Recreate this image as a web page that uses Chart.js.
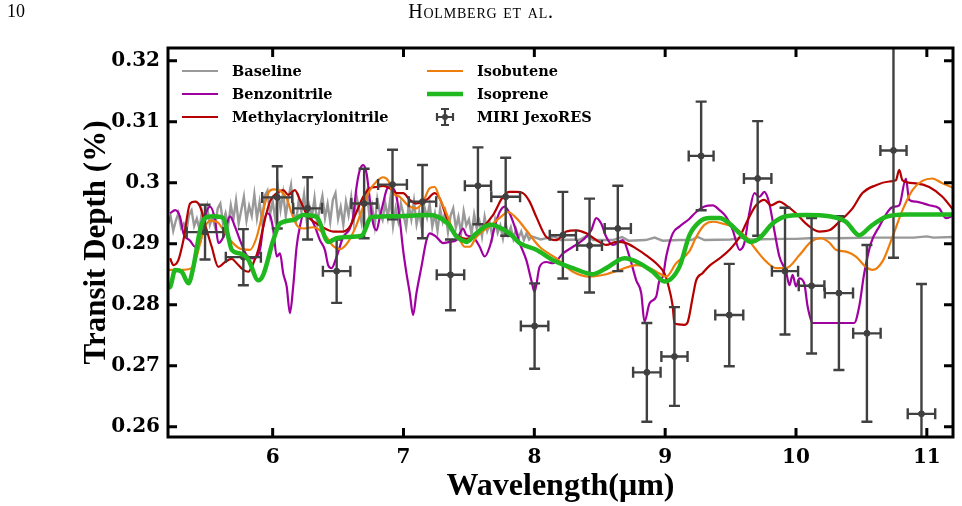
<!DOCTYPE html>
<html>
<head>
<meta charset="utf-8">
<script src="https://cdn.jsdelivr.net/npm/chart.js@4.4.1/dist/chart.umd.min.js"></script>
<style>
  html, body { margin: 0; padding: 0; background: #fff; }
  #wrap { position: relative; width: 962px; height: 506px; }
  #page-no { position: absolute; left: 7px; top: 1px; font: 18px "Liberation Serif", serif; color: #000; }
  #running-head { position: absolute; left: 0; top: 0; width: 962px; text-align: center;
    font: 20px "Liberation Serif", serif; font-variant: small-caps; letter-spacing: 0.8px; color: #000; }
</style>
</head>
<body>
<div id="wrap">
  <canvas id="chart"></canvas>
  <div id="page-no">10</div>
  <div id="running-head">Holmberg et al.</div>
</div>
<script>
// Axis ticks
const X_TICKS = [6, 7, 8, 9, 10, 11];
const Y_TICKS = [0.26, 0.27, 0.28, 0.29, 0.30, 0.31, 0.32];
const Y_TICK_LABELS = ['0.26', '0.27', '0.28', '0.29', '0.3', '0.31', '0.32'];

// MIRI JexoRES data points (wavelength µm, depth %, errors)
const miriWl      = [5.483, 5.776, 6.035, 6.267, 6.489, 6.699, 6.916, 7.145, 7.359, 7.569, 7.781, 8.002, 8.218,
                     8.422, 8.638, 8.860, 9.071, 9.275, 9.490, 9.707, 9.916, 10.119, 10.328, 10.542, 10.745, 10.959];
const miriDepth   = [0.2919, 0.2878, 0.2976, 0.2958, 0.2855, 0.2966, 0.2997, 0.2969, 0.2849, 0.2995, 0.2977, 0.2765, 0.2914,
                     0.2897, 0.2925, 0.2689, 0.2715, 0.3044, 0.2783, 0.3007, 0.2855, 0.2831, 0.2819, 0.2753, 0.3053, 0.2621];
const miriErr     = [0.0045, 0.0046, 0.0051, 0.0051, 0.0052, 0.0057, 0.0057, 0.0060, 0.0058, 0.0063, 0.0064, 0.0070, 0.0071,
                     0.0077, 0.0070, 0.0081, 0.0081, 0.0089, 0.0084, 0.0094, 0.0104, 0.0111, 0.0126, 0.0145, 0.0176, 0.0213];
const miriWlErr   = [0.140, 0.134, 0.115, 0.110, 0.105, 0.098, 0.110, 0.105, 0.105, 0.100, 0.110, 0.105, 0.100,
                     0.095, 0.100, 0.105, 0.100, 0.095, 0.107, 0.105, 0.100, 0.098, 0.108, 0.105, 0.100, 0.105];

// Model spectra: [wavelength, depth]
const baseline = [
  [5.20,0.2932],[5.22,0.2945],[5.24,0.2921],[5.26,0.2938],[5.28,0.2950],[5.30,0.2926],[5.32,0.2933],[5.34,0.2919],
  [5.36,0.2947],[5.38,0.2955],[5.40,0.2929],[5.42,0.2941],[5.44,0.2924],[5.46,0.2953],[5.48,0.2936],[5.50,0.2960],
  [5.52,0.2931],[5.54,0.2944],[5.56,0.2927],[5.58,0.2958],[5.60,0.2966],[5.62,0.2935],[5.64,0.2950],[5.66,0.2930],
  [5.68,0.2963],[5.70,0.2940],[5.72,0.2971],[5.74,0.2933],[5.76,0.2955],[5.78,0.2977],[5.80,0.2938],[5.82,0.2962],
  [5.84,0.2946],[5.86,0.2981],[5.88,0.2942],[5.90,0.2968],[5.92,0.2935],[5.94,0.2979],[5.96,0.2987],[5.98,0.2948],
  [6.00,0.2970],[6.02,0.2940],[6.04,0.2992],[6.06,0.2956],[6.08,0.2983],[6.10,0.2945],[6.12,0.2975],[6.14,0.2996],
  [6.16,0.2950],[6.18,0.2937],[6.20,0.2973],[6.22,0.2952],[6.24,0.2981],[6.26,0.2938],[6.28,0.2962],[6.30,0.2944],
  [6.32,0.2975],[6.34,0.2933],[6.36,0.2958],[6.38,0.2978],[6.40,0.2942],[6.42,0.2965],[6.44,0.2936],[6.46,0.2972],
  [6.48,0.2983],[6.50,0.2941],[6.52,0.2960],[6.54,0.2931],[6.56,0.2969],[6.58,0.2947],[6.60,0.2976],[6.62,0.2937],
  [6.64,0.2980],[6.66,0.2955],[6.68,0.2934],[6.70,0.2968],[6.72,0.2985],[6.74,0.2944],[6.76,0.2962],[6.78,0.2930],
  [6.80,0.2973],[6.82,0.2950],[6.84,0.2939],[6.86,0.2967],[6.88,0.2943],[6.90,0.2975],[6.92,0.2929],[6.94,0.2958],
  [6.96,0.2937],[6.98,0.2966],[7.00,0.2948],[7.02,0.2927],[7.04,0.2963],[7.06,0.2940],[7.08,0.2970],[7.10,0.2932],
  [7.12,0.2952],[7.14,0.2925],[7.16,0.2960],[7.18,0.2943],[7.20,0.2965],[7.22,0.2928],[7.24,0.2949],[7.26,0.2921],
  [7.28,0.2957],[7.30,0.2936],[7.32,0.2952],[7.34,0.2919],[7.36,0.2946],[7.38,0.2958],[7.40,0.2926],[7.42,0.2944],
  [7.44,0.2917],[7.46,0.2953],[7.48,0.2930],[7.50,0.2940],[7.52,0.2915],[7.54,0.2948],[7.56,0.2925],[7.58,0.2937],
  [7.60,0.2912],[7.62,0.2944],[7.64,0.2921],[7.66,0.2933],[7.68,0.2911],[7.70,0.2939],[7.72,0.2918],[7.74,0.2930],
  [7.76,0.2909],[7.78,0.2934],[7.80,0.2915],[7.82,0.2927],[7.84,0.2908],[7.86,0.2924],[7.88,0.2910],[7.90,0.2920],
  [7.92,0.2906],[7.94,0.2917],[7.96,0.2907],[7.98,0.2912],
  [8.05,0.2907],[8.15,0.2912],[8.20,0.2906],[8.35,0.2907],[8.40,0.2913],[8.45,0.2906],[8.60,0.2906],[8.67,0.2911],
  [8.72,0.2905],[8.85,0.2906],[8.92,0.2910],[8.98,0.2905],[9.10,0.2906],[9.20,0.2906],[9.25,0.2911],[9.30,0.2906],
  [9.50,0.2907],[9.60,0.2910],[9.65,0.2907],[9.90,0.2908],[10.00,0.2908],[10.10,0.2909],[10.30,0.2909],[10.60,0.2910],
  [10.90,0.2910],[11.00,0.2912],[11.05,0.2910],[11.20,0.2911]
];

const benzonitrile = [
  [5.216,0.2950],[5.254,0.2955],[5.292,0.2944],[5.318,0.2917],[5.369,0.2905],[5.407,0.2895],[5.445,0.2901],[5.483,0.2945],
  [5.521,0.2961],[5.560,0.2939],[5.585,0.2901],[5.623,0.2911],[5.674,0.2945],[5.712,0.2928],[5.750,0.2906],[5.802,0.2881],
  [5.852,0.2876],[5.903,0.2890],[5.928,0.2928],[5.954,0.2950],[5.979,0.2947],[6.005,0.2922],[6.031,0.2879],[6.056,0.2884],
  [6.081,0.2851],[6.107,0.2830],[6.132,0.2786],[6.157,0.2830],[6.183,0.2895],[6.208,0.2928],[6.234,0.2947],[6.285,0.2944],
  [6.323,0.2928],[6.361,0.2906],[6.399,0.2890],[6.424,0.2865],[6.450,0.2860],[6.489,0.2879],[6.539,0.2911],[6.590,0.2925],
  [6.615,0.2944],[6.641,0.2993],[6.666,0.3021],[6.692,0.3029],[6.718,0.3015],[6.743,0.2972],[6.768,0.2933],[6.794,0.2922],
  [6.819,0.2944],[6.844,0.2966],[6.870,0.2988],[6.895,0.2993],[6.921,0.2991],[6.947,0.2977],[6.972,0.2939],[6.997,0.2890],
  [7.023,0.2851],[7.048,0.2819],[7.073,0.2783],[7.099,0.2819],[7.137,0.2862],[7.176,0.2906],[7.201,0.2917],[7.252,0.2911],
  [7.302,0.2901],[7.353,0.2903],[7.405,0.2906],[7.455,0.2925],[7.481,0.2914],[7.531,0.2911],[7.582,0.2895],[7.621,0.2879],
  [7.659,0.2895],[7.697,0.2928],[7.735,0.2952],[7.773,0.2961],[7.811,0.2950],[7.850,0.2928],[7.888,0.2901],[7.939,0.2873],
  [7.977,0.2840],[8.002,0.2821],[8.040,0.2862],[8.092,0.2870],[8.142,0.2868],[8.218,0.2884],[8.295,0.2895],[8.371,0.2906],
  [8.435,0.2922],[8.473,0.2942],[8.511,0.2933],[8.550,0.2911],[8.600,0.2898],[8.676,0.2906],[8.727,0.2879],[8.779,0.2840],
  [8.817,0.2819],[8.842,0.2772],[8.880,0.2802],[8.931,0.2813],[8.957,0.2840],[8.982,0.2846],[9.008,0.2879],[9.058,0.2917],
  [9.109,0.2928],[9.186,0.2941],[9.237,0.2952],[9.300,0.2961],[9.364,0.2963],[9.416,0.2955],[9.466,0.2944],[9.517,0.2922],
  [9.569,0.2890],[9.605,0.2901],[9.643,0.2950],[9.682,0.2983],[9.720,0.2977],[9.758,0.2985],[9.796,0.2966],[9.834,0.2922],
  [9.873,0.2879],[9.924,0.2854],[9.950,0.2832],[9.974,0.2849],[10.000,0.2830],[10.025,0.2843],[10.063,0.2835],[10.089,0.2797],
  [10.127,0.2770],[10.445,0.2770],[10.483,0.2797],[10.521,0.2851],[10.573,0.2901],[10.636,0.2928],[10.737,0.2960],[10.789,0.2963],
  [10.840,0.3007],[10.865,0.2972],[10.916,0.2969],[11.018,0.2963],[11.095,0.2958],[11.145,0.2942],[11.200,0.2946]
];

const methylacrylonitrile = [
  [5.216,0.2876],[5.241,0.2865],[5.279,0.2873],[5.318,0.2906],[5.369,0.2966],[5.407,0.2969],[5.445,0.2961],[5.496,0.2922],
  [5.534,0.2895],[5.585,0.2862],[5.636,0.2870],[5.687,0.2875],[5.725,0.2868],[5.776,0.2857],[5.814,0.2854],[5.852,0.2868],
  [5.890,0.2890],[5.928,0.2928],[5.979,0.2969],[6.031,0.2983],[6.081,0.2988],[6.119,0.2980],[6.170,0.2988],[6.208,0.2972],
  [6.272,0.2944],[6.336,0.2933],[6.399,0.2925],[6.463,0.2920],[6.539,0.2920],[6.590,0.2928],[6.641,0.2952],[6.692,0.2977],
  [6.743,0.2991],[6.794,0.2993],[6.844,0.2995],[6.895,0.2991],[6.947,0.2983],[6.997,0.2983],[7.048,0.2972],[7.099,0.2966],
  [7.176,0.2972],[7.239,0.2983],[7.277,0.2974],[7.328,0.2944],[7.379,0.2920],[7.430,0.2911],[7.481,0.2908],[7.582,0.2922],
  [7.684,0.2947],[7.760,0.2977],[7.811,0.2985],[7.863,0.2985],[7.913,0.2983],[7.964,0.2969],[8.015,0.2944],[8.092,0.2911],
  [8.168,0.2906],[8.244,0.2920],[8.321,0.2922],[8.397,0.2917],[8.473,0.2906],[8.550,0.2898],[8.626,0.2903],[8.702,0.2901],
  [8.779,0.2892],[8.855,0.2881],[8.931,0.2868],[8.995,0.2851],[9.020,0.2835],[9.058,0.2797],[9.071,0.2769],[9.147,0.2767],
  [9.173,0.2772],[9.211,0.2813],[9.237,0.2840],[9.287,0.2852],[9.340,0.2864],[9.416,0.2876],[9.492,0.2890],[9.569,0.2911],
  [9.631,0.2939],[9.695,0.2963],[9.758,0.2972],[9.809,0.2963],[9.873,0.2969],[9.924,0.2963],[10.000,0.2950],[10.076,0.2933],
  [10.178,0.2920],[10.254,0.2922],[10.331,0.2936],[10.432,0.2958],[10.508,0.2983],[10.611,0.2996],[10.712,0.3002],[10.763,0.3004],
  [10.789,0.3021],[10.814,0.3004],[10.916,0.2999],[11.018,0.2993],[11.119,0.2977],[11.200,0.2956]
];

const isobutene = [
  [5.200,0.2857],[5.300,0.2857],[5.380,0.2860],[5.420,0.2880],[5.470,0.2920],[5.520,0.2938],[5.580,0.2935],[5.630,0.2920],
  [5.675,0.2906],[5.750,0.2892],[5.827,0.2890],[5.878,0.2911],[5.928,0.2955],[5.966,0.2983],[6.005,0.2989],[6.056,0.2987],
  [6.107,0.2974],[6.145,0.2950],[6.183,0.2931],[6.234,0.2925],[6.310,0.2927],[6.361,0.2922],[6.412,0.2911],[6.463,0.2896],
  [6.514,0.2891],[6.577,0.2903],[6.641,0.2931],[6.692,0.2961],[6.743,0.2988],[6.794,0.3002],[6.844,0.3009],[6.882,0.3004],
  [6.921,0.2983],[6.972,0.2977],[7.035,0.2963],[7.099,0.2958],[7.150,0.2969],[7.201,0.2991],[7.239,0.2993],[7.277,0.2974],
  [7.328,0.2950],[7.379,0.2922],[7.430,0.2906],[7.468,0.2895],[7.506,0.2895],[7.557,0.2911],[7.684,0.2933],[7.760,0.2947],
  [7.798,0.2952],[7.863,0.2942],[7.939,0.2922],[8.040,0.2895],[8.168,0.2876],[8.295,0.2854],[8.422,0.2846],[8.550,0.2850],
  [8.651,0.2857],[8.779,0.2865],[8.880,0.2860],[8.957,0.2851],[9.008,0.2846],[9.084,0.2868],[9.186,0.2888],[9.237,0.2911],
  [9.300,0.2931],[9.364,0.2936],[9.441,0.2933],[9.517,0.2928],[9.619,0.2911],[9.695,0.2890],[9.771,0.2871],[9.847,0.2860],
  [9.924,0.2860],[10.025,0.2881],[10.114,0.2903],[10.190,0.2909],[10.254,0.2902],[10.305,0.2890],[10.382,0.2887],[10.458,0.2879],
  [10.534,0.2862],[10.585,0.2857],[10.661,0.2871],[10.737,0.2911],[10.814,0.2955],[10.890,0.2988],[10.966,0.3003],[11.043,0.3007],
  [11.119,0.2999],[11.200,0.2992]
];

const isoprene = [
  [5.200,0.2828],[5.216,0.2829],[5.254,0.2857],[5.305,0.2854],[5.356,0.2835],[5.394,0.2862],[5.445,0.2922],[5.483,0.2942],
  [5.547,0.2945],[5.623,0.2942],[5.661,0.2911],[5.687,0.2890],[5.750,0.2884],[5.814,0.2874],[5.890,0.2840],[5.928,0.2849],
  [6.005,0.2906],[6.056,0.2933],[6.157,0.2939],[6.234,0.2947],[6.336,0.2944],[6.424,0.2903],[6.489,0.2909],[6.565,0.2911],
  [6.679,0.2913],[6.756,0.2944],[6.921,0.2945],[7.176,0.2947],[7.252,0.2945],[7.340,0.2933],[7.405,0.2912],[7.455,0.2905],
  [7.481,0.2903],[7.557,0.2917],[7.659,0.2931],[7.710,0.2929],[7.811,0.2917],[7.888,0.2901],[8.015,0.2890],[8.142,0.2873],
  [8.295,0.2860],[8.447,0.2850],[8.550,0.2860],[8.689,0.2876],[8.804,0.2868],[8.905,0.2854],[8.995,0.2838],[9.109,0.2862],
  [9.186,0.2914],[9.263,0.2936],[9.340,0.2942],[9.416,0.2942],[9.492,0.2933],[9.569,0.2917],[9.656,0.2903],[9.720,0.2909],
  [9.821,0.2933],[9.924,0.2945],[10.076,0.2947],[10.254,0.2945],[10.382,0.2936],[10.483,0.2914],[10.573,0.2929],[10.687,0.2944],
  [10.840,0.2948],[11.200,0.2948]
];

const COLORS = {
  baseline: '#999999',
  benzonitrile: '#a000a0',
  methyl: '#b40000',
  isobutene: '#ee7d0c',
  isoprene: '#1fb81f',
  miri: '#404040',
};
const FONT_SERIF = '"DejaVu Serif", serif';
const FONT_TITLE = '"Liberation Serif", serif';

const toPoints = (pairs) => pairs.map(([x, y]) => ({ x, y }));

function lineSet(label, pairs, color, width, order, smooth) {
  return {
    label, data: toPoints(pairs), borderColor: color, backgroundColor: color,
    borderWidth: width, pointRadius: 0, fill: false, order,
    tension: smooth ? 0.35 : 0, cubicInterpolationMode: smooth ? 'monotone' : 'default',
  };
}

/** Error bars for the MIRI points, drawn just below the Isoprene line. */
const errorBars = {
  id: 'errorBars',
  beforeDatasetDraw(chart, args) {
    if (chart.data.datasets[args.index].label !== 'MIRI JexoRES') return;
    const { ctx, chartArea: a, scales: { x, y } } = chart;
    const cap = 5.5;
    ctx.save();
    ctx.beginPath();
    ctx.rect(a.left, a.top, a.right - a.left, a.bottom - a.top);
    ctx.clip();
    ctx.strokeStyle = COLORS.miri;
    ctx.lineWidth = 2.4;
    miriWl.forEach((w, i) => {
      const px = x.getPixelForValue(w);
      const py = y.getPixelForValue(miriDepth[i]);
      const x0 = x.getPixelForValue(w - miriWlErr[i]);
      const x1 = x.getPixelForValue(w + miriWlErr[i]);
      const y0 = y.getPixelForValue(miriDepth[i] + miriErr[i]);
      const y1 = y.getPixelForValue(miriDepth[i] - miriErr[i]);
      ctx.beginPath();
      ctx.moveTo(px, y0); ctx.lineTo(px, y1);
      ctx.moveTo(x0, py); ctx.lineTo(x1, py);
      ctx.moveTo(px - cap, y0); ctx.lineTo(px + cap, y0);
      ctx.moveTo(px - cap, y1); ctx.lineTo(px + cap, y1);
      ctx.moveTo(x0, py - cap); ctx.lineTo(x0, py + cap);
      ctx.moveTo(x1, py - cap); ctx.lineTo(x1, py + cap);
      ctx.stroke();
    });
    ctx.restore();
  }
};

/** Thick frame with inward ticks on all four sides. */
const frame = {
  id: 'frame',
  afterDatasetsDraw(chart) {
    const { ctx, chartArea: a, scales: { x, y } } = chart;
    const len = 9;
    ctx.save();
    ctx.strokeStyle = '#000';
    ctx.lineWidth = 3;
    ctx.beginPath();
    X_TICKS.forEach(v => {
      const px = x.getPixelForValue(v);
      ctx.moveTo(px, a.bottom); ctx.lineTo(px, a.bottom - len);
      ctx.moveTo(px, a.top); ctx.lineTo(px, a.top + len);
    });
    Y_TICKS.forEach(v => {
      const py = y.getPixelForValue(v);
      ctx.moveTo(a.left, py); ctx.lineTo(a.left + len, py);
      ctx.moveTo(a.right, py); ctx.lineTo(a.right - len, py);
    });
    ctx.stroke();
    ctx.strokeRect(a.left, a.top, a.right - a.left, a.bottom - a.top);
    ctx.restore();
  }
};

/** Two-column legend in the upper left of the plot. */
const legendBox = {
  id: 'legendBox',
  afterDraw(chart) {
    const { ctx, chartArea: a } = chart;
    const rows = [a.top + 23, a.top + 46, a.top + 69];
    const cols = [
      { lx: a.left + 14, tx: a.left + 64 },
      { lx: a.left + 259, tx: a.left + 309 },
    ];
    const entries = [
      { label: 'Baseline', color: COLORS.baseline, width: 2.2 },
      { label: 'Benzonitrile', color: COLORS.benzonitrile, width: 2.2 },
      { label: 'Methylacrylonitrile', color: COLORS.methyl, width: 2.2 },
      { label: 'Isobutene', color: COLORS.isobutene, width: 2.2 },
      { label: 'Isoprene', color: COLORS.isoprene, width: 4.5 },
      { label: 'MIRI JexoRES', color: COLORS.miri, errbar: true },
    ];
    ctx.save();
    ctx.font = 'bold 14.5px ' + FONT_SERIF;
    ctx.textBaseline = 'middle';
    ctx.fillStyle = '#000';
    entries.forEach((e, i) => {
      const c = cols[Math.floor(i / 3)];
      const ry = rows[i % 3];
      if (e.errbar) {
        const cx = c.lx + 18;
        ctx.strokeStyle = e.color;
        ctx.lineWidth = 2.2;
        ctx.beginPath();
        ctx.moveTo(cx, ry - 8); ctx.lineTo(cx, ry + 8);
        ctx.moveTo(cx - 8, ry); ctx.lineTo(cx + 8, ry);
        ctx.moveTo(cx - 4, ry - 8); ctx.lineTo(cx + 4, ry - 8);
        ctx.moveTo(cx - 4, ry + 8); ctx.lineTo(cx + 4, ry + 8);
        ctx.moveTo(cx - 8, ry - 4); ctx.lineTo(cx - 8, ry + 4);
        ctx.moveTo(cx + 8, ry - 4); ctx.lineTo(cx + 8, ry + 4);
        ctx.stroke();
        ctx.fillStyle = e.color;
        ctx.beginPath(); ctx.arc(cx, ry, 3, 0, Math.PI * 2); ctx.fill();
        ctx.fillStyle = '#000';
      } else {
        ctx.strokeStyle = e.color;
        ctx.lineWidth = e.width;
        ctx.beginPath();
        ctx.moveTo(c.lx, ry); ctx.lineTo(c.lx + 36, ry);
        ctx.stroke();
      }
      ctx.fillText(e.label, c.tx, ry + 1);
    });
    ctx.restore();
  }
};

new Chart(document.getElementById('chart'), {
  type: 'line',
  data: {
    datasets: [
      lineSet('Isoprene', isoprene, COLORS.isoprene, 4.5, 0, true),
      { label: 'MIRI JexoRES', type: 'scatter', data: miriWl.map((w, i) => ({ x: w, y: miriDepth[i] })),
        backgroundColor: COLORS.miri, borderColor: COLORS.miri, pointRadius: 3, showLine: false, order: 1 },
      lineSet('Isobutene', isobutene, COLORS.isobutene, 2.2, 2, true),
      lineSet('Methylacrylonitrile', methylacrylonitrile, COLORS.methyl, 2.2, 3, true),
      lineSet('Benzonitrile', benzonitrile, COLORS.benzonitrile, 2.2, 4, true),
      lineSet('Baseline', baseline, COLORS.baseline, 2.4, 5, false),
    ]
  },
  options: {
    responsive: true,
    maintainAspectRatio: false,
    animation: false,
    events: [],
    layout: { padding: { top: 48, right: 9, left: 0, bottom: 0 } },
    plugins: { legend: { display: false }, tooltip: { enabled: false } },
    scales: {
      x: {
        type: 'linear', min: 5.2, max: 11.2,
        grid: { display: false, drawTicks: false },
        border: { display: false },
        afterBuildTicks: (s) => { s.ticks = X_TICKS.map(v => ({ value: v })); },
        afterFit: (s) => { s.height = 69; },
        ticks: { padding: 9, color: '#000', font: { family: FONT_SERIF, weight: 'bold', size: 20 },
                 maxRotation: 0, callback: (v) => String(v) },
        title: { display: true, text: 'Wavelength(μm)', color: '#000',
                 font: { family: FONT_TITLE, weight: 'bold', size: 32 }, padding: { top: 0, bottom: 0 } },
      },
      y: {
        type: 'linear', min: 0.2583, max: 0.3221,
        grid: { display: false, drawTicks: false },
        border: { display: false },
        afterBuildTicks: (s) => { s.ticks = Y_TICKS.map(v => ({ value: v })); },
        afterFit: (s) => { s.width = 168; },
        ticks: { padding: 8, color: '#000', font: { family: FONT_SERIF, weight: 'bold', size: 20 },
                 callback: (v, i) => Y_TICK_LABELS[i] },
        title: { display: true, text: 'Transit Depth (%)', color: '#000',
                 font: { family: FONT_TITLE, weight: 'bold', size: 31 }, padding: { top: 78, bottom: 0 } },
      }
    }
  },
  plugins: [errorBars, frame, legendBox]
});
</script>
</body>
</html>
